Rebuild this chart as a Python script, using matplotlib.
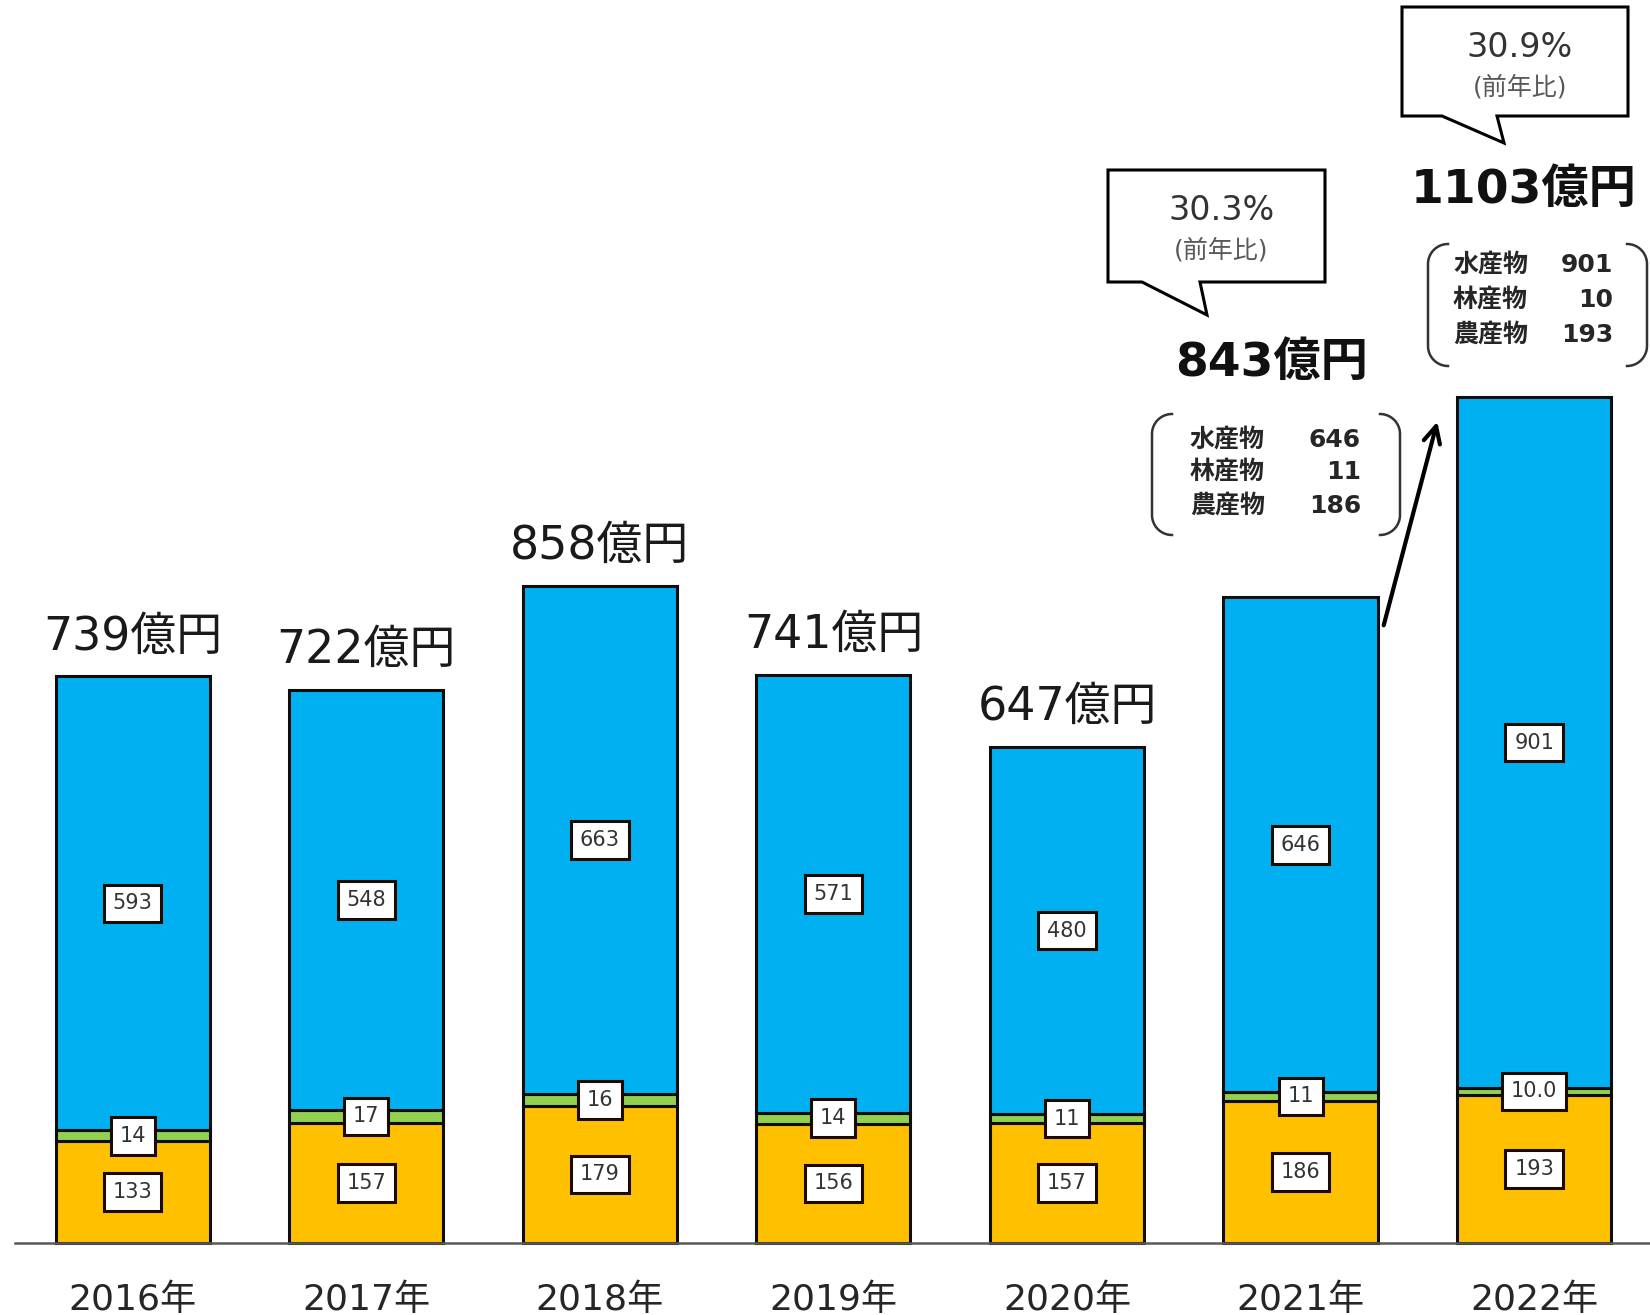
import numpy as np
import matplotlib
matplotlib.use('Agg')
import matplotlib.pyplot as plt
from matplotlib.patches import Polygon

# wide latin digits first, kanji falls back to Noto CJK
plt.rcParams['font.family'] = ['DejaVu Sans', 'Noto Sans CJK JP']

# ── data ────────────────────────────────────────────────────────────────
years = ['2016年', '2017年', '2018年', '2019年', '2020年', '2021年', '2022年']
agri = [133, 157, 179, 156, 157, 186, 193]        # 農産物
forest = [14, 17, 16, 14, 11, 11, 10.0]           # 林産物
fish = [593, 548, 663, 571, 480, 646, 901]        # 水産物
forest_txt = ['14', '17', '16', '14', '11', '11', '10.0']
totals = [739, 722, 858, 741, 647, 843, 1103]
yoy = ['30.3%', '30.9%']                          # 2021, 2022
cat_names = ['水産物', '林産物', '農産物']

C_AGRI, C_FOREST, C_FISH = '#FFC000', '#92D050', '#00B0F0'

# ── bars ────────────────────────────────────────────────────────────────
fig = plt.figure(figsize=(16.5, 13.15), dpi=100)
ax = fig.add_axes([0, 0, 1, 1])
ax.set_xlim(-0.568, 6.496)
ax.set_ylim(-94, 1623)
ax.axis('off')

x = np.arange(len(years))
kw = dict(width=0.66, edgecolor='#0d0d0d', linewidth=2.2)
ax.bar(x, agri, color=C_AGRI, **kw)
ax.bar(x, forest, bottom=agri, color=C_FOREST, **kw)
b2 = np.array(agri) + np.array(forest)
ax.bar(x, fish, bottom=b2, color=C_FISH, **kw)
ax.plot([-0.503, 6.496], [0, 0], color='#595959', lw=1.8, zorder=5)

box = dict(boxstyle='square,pad=0.42', fc='white', ec='#1a0a00', lw=2.2)
lab = dict(ha='center', va='center', fontsize=15, color='#333333', bbox=box, zorder=6)
for i in x:
    ax.text(i, agri[i] / 2, str(agri[i]), **lab)
    ax.text(i, agri[i] + forest[i] / 2, forest_txt[i], **lab)
    ax.text(i, b2[i] + fish[i] / 2, str(fish[i]), **lab)
    ax.text(i, -74, years[i], ha='center', va='center', fontsize=26, color='#262626')
    if i < 5:
        ax.text(i, totals[i] + 52, f'{totals[i]}億円', ha='center', va='center',
                fontsize=33, color='#1a1a1a')

# ── annotations (pixel overlay) ─────────────────────────────────────────
ov = fig.add_axes([0, 0, 1, 1])
ov.set_xlim(0, 1650)
ov.set_ylim(1315, 0)
ov.axis('off')


def callout(x0, y0, x1, y1, tail, tip, pct):
    pts = [(x0, y0), (x1, y0), (x1, y1), (tail[1], y1), tip, (tail[0], y1), (x0, y1)]
    ov.add_patch(Polygon(pts, closed=True, fc='white', ec='black', lw=2.2,
                         joinstyle='miter'))
    cx = (x0 + x1) / 2 + 5
    ov.text(cx, y0 + 40, pct, ha='center', va='center', fontsize=24, color='#333333')
    ov.text(cx, y0 + 80, '(前年比)', ha='center', va='center', fontsize=18,
            color='#595959')


def bracket(x0, y0, x1, y1, r=20):
    t = np.linspace(np.pi / 2, np.pi, 20)
    top = np.c_[x0 + r + r * np.cos(t), y0 + r - r * np.sin(t)]
    t2 = np.linspace(np.pi, 1.5 * np.pi, 20)
    bot = np.c_[x0 + r + r * np.cos(t2), y1 - r - r * np.sin(t2)]
    pts = np.vstack([top, bot])
    ov.plot(pts[:, 0], pts[:, 1], color='#333333', lw=1.8)
    ov.plot(x0 + x1 - pts[:, 0], pts[:, 1], color='#333333', lw=1.8)


def breakdown(i, x0, y0, x1, y1, lab_x, num_x, rows):
    bracket(x0, y0, x1, y1)
    vals = [fish[i], forest[i], agri[i]]
    for name, v, ry in zip(cat_names, vals, rows):
        ov.text(lab_x, ry, name, ha='left', va='center', fontsize=18,
                fontweight='bold', color='#262626')
        ov.text(num_x, ry, f'{v:g}', ha='right', va='center', fontsize=18,
                fontweight='bold', color='#262626')


# 2021
callout(1108, 170, 1325, 282, (1142, 1200), (1207, 315), yoy[0])
ov.text(1272, 363, f'{totals[5]}億円', ha='center', va='center', fontsize=34,
        fontweight='bold', color='#111111')
breakdown(5, 1152, 414, 1400, 535, 1190, 1361, [440, 472, 506])

# 2022
callout(1402, 7, 1628, 116, (1442, 1497), (1504, 143), yoy[1])
ov.text(1524, 190, f'{totals[6]}億円', ha='center', va='center', fontsize=34,
        fontweight='bold', color='#111111')
breakdown(6, 1428, 244, 1647, 366, 1453, 1613, [265, 300, 335])

ov.annotate('', xy=(1438, 419), xytext=(1383, 628),
            arrowprops=dict(arrowstyle='->', lw=3, color='black', mutation_scale=30))

fig.savefig('out.png', dpi=100)
